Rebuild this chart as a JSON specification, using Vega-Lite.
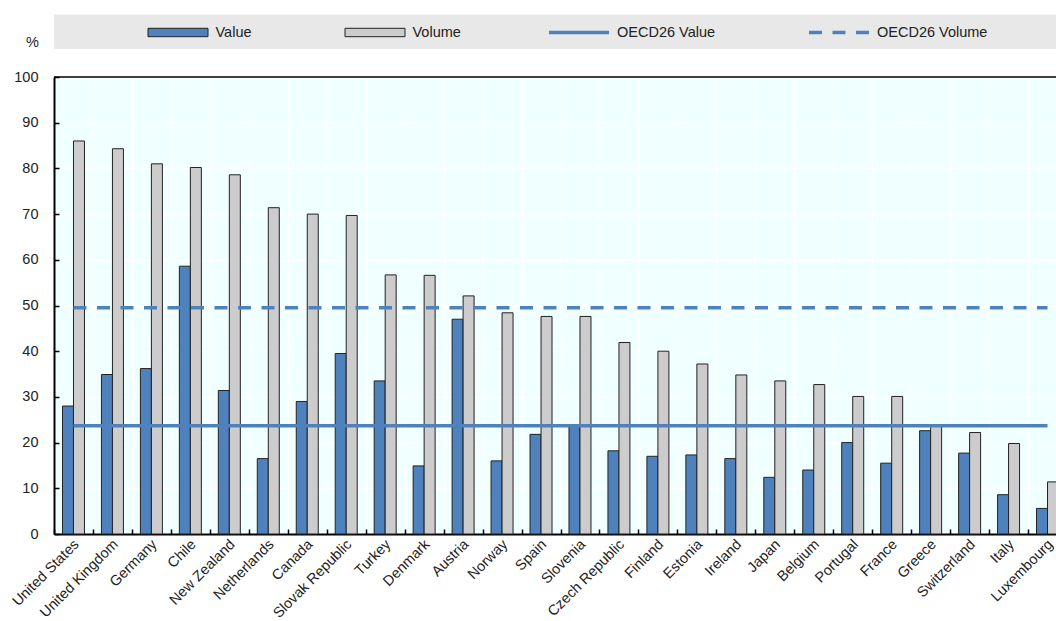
{
  "$schema": "https://vega.github.io/schema/vega-lite/v6.json",
  "width": 1002,
  "height": 457,
  "autosize": {"type": "none"},
  "padding": {"left": 54, "top": 77, "right": 0, "bottom": 87},
  "background": "#ffffff",
  "config": {
    "view": {"fill": "#f0ffff", "stroke": null},
    "font": "Liberation Sans",
    "axis": {"labelFont": "Liberation Sans", "titleFont": "Liberation Sans"},
    "legend": {"labelFont": "Liberation Sans"}
  },
  "datasets": {
    "bars": [
      {"country": "United States", "series": "Value", "value": 28.0},
      {"country": "United States", "series": "Volume", "value": 86.0},
      {"country": "United Kingdom", "series": "Value", "value": 34.9},
      {"country": "United Kingdom", "series": "Volume", "value": 84.3},
      {"country": "Germany", "series": "Value", "value": 36.2},
      {"country": "Germany", "series": "Volume", "value": 81.0},
      {"country": "Chile", "series": "Value", "value": 58.6},
      {"country": "Chile", "series": "Volume", "value": 80.2},
      {"country": "New Zealand", "series": "Value", "value": 31.4},
      {"country": "New Zealand", "series": "Volume", "value": 78.6},
      {"country": "Netherlands", "series": "Value", "value": 16.5},
      {"country": "Netherlands", "series": "Volume", "value": 71.4},
      {"country": "Canada", "series": "Value", "value": 29.0},
      {"country": "Canada", "series": "Volume", "value": 70.0},
      {"country": "Slovak Republic", "series": "Value", "value": 39.5},
      {"country": "Slovak Republic", "series": "Volume", "value": 69.7},
      {"country": "Turkey", "series": "Value", "value": 33.5},
      {"country": "Turkey", "series": "Volume", "value": 56.7},
      {"country": "Denmark", "series": "Value", "value": 14.9},
      {"country": "Denmark", "series": "Volume", "value": 56.6},
      {"country": "Austria", "series": "Value", "value": 47.0},
      {"country": "Austria", "series": "Volume", "value": 52.1},
      {"country": "Norway", "series": "Value", "value": 16.0},
      {"country": "Norway", "series": "Volume", "value": 48.4},
      {"country": "Spain", "series": "Value", "value": 21.8},
      {"country": "Spain", "series": "Volume", "value": 47.6},
      {"country": "Slovenia", "series": "Value", "value": 23.6},
      {"country": "Slovenia", "series": "Volume", "value": 47.6},
      {"country": "Czech Republic", "series": "Value", "value": 18.2},
      {"country": "Czech Republic", "series": "Volume", "value": 41.9},
      {"country": "Finland", "series": "Value", "value": 17.0},
      {"country": "Finland", "series": "Volume", "value": 40.0},
      {"country": "Estonia", "series": "Value", "value": 17.3},
      {"country": "Estonia", "series": "Volume", "value": 37.2},
      {"country": "Ireland", "series": "Value", "value": 16.5},
      {"country": "Ireland", "series": "Volume", "value": 34.8},
      {"country": "Japan", "series": "Value", "value": 12.4},
      {"country": "Japan", "series": "Volume", "value": 33.5},
      {"country": "Belgium", "series": "Value", "value": 14.0},
      {"country": "Belgium", "series": "Volume", "value": 32.7},
      {"country": "Portugal", "series": "Value", "value": 20.0},
      {"country": "Portugal", "series": "Volume", "value": 30.1},
      {"country": "France", "series": "Value", "value": 15.5},
      {"country": "France", "series": "Volume", "value": 30.1},
      {"country": "Greece", "series": "Value", "value": 22.6},
      {"country": "Greece", "series": "Volume", "value": 23.9},
      {"country": "Switzerland", "series": "Value", "value": 17.7},
      {"country": "Switzerland", "series": "Volume", "value": 22.2},
      {"country": "Italy", "series": "Value", "value": 8.6},
      {"country": "Italy", "series": "Volume", "value": 19.8},
      {"country": "Luxembourg", "series": "Value", "value": 5.6},
      {"country": "Luxembourg", "series": "Volume", "value": 11.4}
    ],
    "oecd": [
      {"country": "United States", "series": "OECD26 Value", "value": 23.7},
      {"country": "Luxembourg", "series": "OECD26 Value", "value": 23.7},
      {"country": "United States", "series": "OECD26 Volume", "value": 49.5},
      {"country": "Luxembourg", "series": "OECD26 Volume", "value": 49.5}
    ],
    "one": [{}]
  },
  "layer": [
    {
      "data": {"name": "one"},
      "mark": {"type": "rect", "color": "#e8e8e8", "clip": false},
      "encoding": {
        "y": {"datum": 113.7, "type": "quantitative", "scale": {"domain": [0, 100]}},
        "y2": {"datum": 106.1}
      }
    },
    {
      "data": {"name": "bars"},
      "mark": {"type": "bar", "stroke": "#222222", "strokeWidth": 1},
      "encoding": {
        "x": {
          "field": "country",
          "type": "nominal",
          "sort": null,
          "scale": {
            "domain": ["United States", "United Kingdom", "Germany", "Chile", "New Zealand", "Netherlands", "Canada", "Slovak Republic", "Turkey", "Denmark", "Austria", "Norway", "Spain", "Slovenia", "Czech Republic", "Finland", "Estonia", "Ireland", "Japan", "Belgium", "Portugal", "France", "Greece", "Switzerland", "Italy", "Luxembourg"],
            "range": [0, 1013],
            "paddingInner": 0,
            "paddingOuter": 0
          },
          "axis": {
            "title": null,
            "tickBand": "extent",
            "grid": true,
            "gridColor": "#ffffff",
            "gridWidth": 1.5,
            "domainColor": "#000000",
            "domainWidth": 2,
            "tickColor": "#000000",
            "tickSize": -5,
            "tickWidth": 1.5,
            "labelAngle": -45,
            "labelAlign": "right",
            "labelBaseline": "top",
            "labelFontSize": 14.5,
            "labelPadding": 8,
            "labelOffset": -2,
            "labelColor": "#222222",
            "labelOverlap": false,
            "labelBound": false
          }
        },
        "xOffset": {
          "field": "series",
          "type": "nominal",
          "scale": {"domain": ["Value", "Volume"], "paddingInner": 0, "paddingOuter": 0.771}
        },
        "y": {
          "field": "value",
          "type": "quantitative",
          "scale": {"domain": [0, 100]},
          "axis": {
            "values": [0, 10, 20, 30, 40, 50, 60, 70, 80, 90, 100],
            "title": "%",
            "titleAngle": 0,
            "titleX": -22,
            "titleY": -35,
            "titleAlign": "center",
            "titleBaseline": "middle",
            "titleFontWeight": "normal",
            "titleFontSize": 14.5,
            "titleColor": "#222222",
            "grid": true,
            "gridColor": "#ffffff",
            "gridWidth": 1.5,
            "domainColor": "#000000",
            "domainWidth": 2,
            "tickColor": "#000000",
            "tickSize": -5,
            "tickWidth": 1.5,
            "labelPadding": 21,
            "labelFontSize": 14.5,
            "labelColor": "#222222"
          }
        },
        "fill": {
          "field": "series",
          "type": "nominal",
          "scale": {"domain": ["Value", "Volume"], "range": ["#4f81bd", "#cccccc"]},
          "legend": {
            "title": null,
            "orient": "none",
            "legendX": 93.5,
            "legendY": -75,
            "direction": "horizontal",
            "padding": 0,
            "columnPadding": 90,
            "symbolType": "M-1,-0.14L1,-0.14L1,0.14L-1,0.14Z",
            "symbolSize": 3600,
            "symbolStrokeWidth": 1,
            "symbolStrokeColor": "#222222",
            "symbolOpacity": 1,
            "labelOffset": 7,
            "labelFontSize": 14.5,
            "labelColor": "#222222"
          }
        }
      }
    },
    {
      "data": {"name": "oecd"},
      "mark": {"type": "line", "strokeWidth": 3.5, "strokeCap": "butt"},
      "encoding": {
        "x": {"field": "country", "type": "nominal", "sort": null},
        "y": {"field": "value", "type": "quantitative"},
        "stroke": {
          "field": "series",
          "type": "nominal",
          "scale": {"domain": ["OECD26 Value", "OECD26 Volume"], "range": ["#4f81bd", "#4f81bd"]},
          "legend": {
            "title": null,
            "orient": "none",
            "legendX": 493,
            "legendY": -76.5,
            "direction": "horizontal",
            "padding": 0,
            "columnPadding": 86,
            "symbolType": "stroke",
            "symbolSize": 3600,
            "symbolStrokeWidth": 3.5,
            "symbolOpacity": 1,
            "labelOffset": 6,
            "labelFontSize": 14.5,
            "labelColor": "#222222"
          }
        },
        "strokeDash": {
          "field": "series",
          "type": "nominal",
          "scale": {"domain": ["OECD26 Value", "OECD26 Volume"], "range": [[1, 0], [13, 10.5]]},
          "legend": {
            "title": null,
            "orient": "none",
            "legendX": 493,
            "legendY": -76.5,
            "direction": "horizontal",
            "padding": 0,
            "columnPadding": 86,
            "symbolType": "stroke",
            "symbolSize": 3600,
            "symbolStrokeWidth": 3.5,
            "symbolOpacity": 1,
            "labelOffset": 6,
            "labelFontSize": 14.5,
            "labelColor": "#222222"
          }
        }
      }
    },
    {
      "data": {"name": "one"},
      "mark": {"type": "rule", "color": "#000000", "strokeWidth": 1.5},
      "encoding": {"y": {"datum": 100, "type": "quantitative"}}
    }
  ]
}
